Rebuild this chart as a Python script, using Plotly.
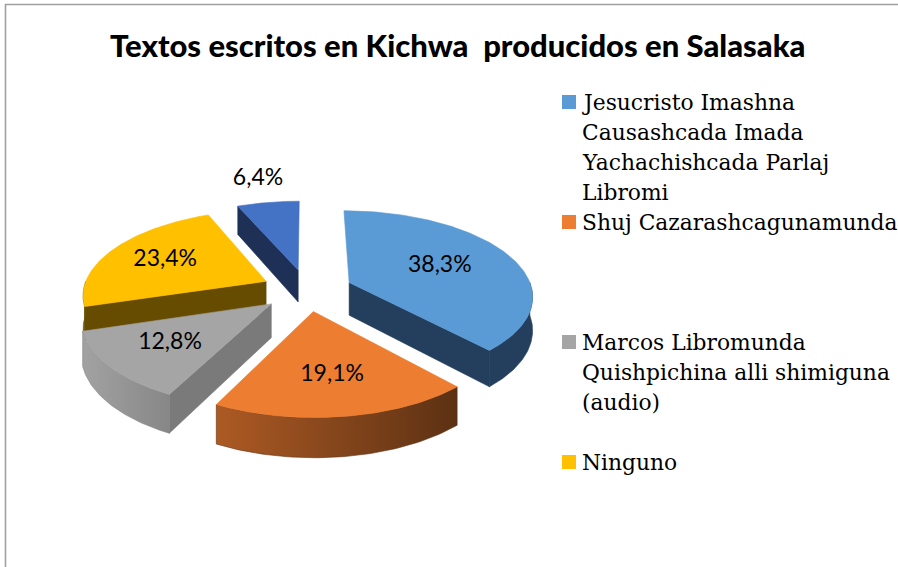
import numpy as np
import plotly.graph_objects as go

# ---------------- data ----------------
legend_lines = [
    ["Jesucristo Imashna", "Causashcada Imada", "Yachachishcada Parlaj", "Libromi"],
    ["Shuj Cazarashcagunamunda"],
    ["Marcos Libromunda", "Quishpichina alli shimiguna", "(audio)"],
    ["Ninguno"],
    ["Otros"],
]
categories = [" ".join(l) for l in legend_lines]
percentages = [38.3, 19.1, 12.8, 23.4, 6.4]
title_text = "Textos escritos en Kichwa\u00a0 producidos en Salasaka"

# ---------------- style ----------------
top_colors = ["#5B9BD5", "#ED7D31", "#A5A5A5", "#FFC000", "#4472C4"]
radial_colors = ["#243F5D", "#6E3A17", "#7A7A7A", "#664C00", "#1F3056"]
outer_grad = [("#243F5D", "#243F5D"), ("#AD5A24", "#5C3113"), ("#A2A2A2", "#878787"),
              ("#7F6000", "#6A5000"), ("#1F3056", "#1F3056")]
label_r = [0.56, 0.64, 0.65, 0.65, 1.40]
legend_visible = 4

W, H = 898, 567
CX, CY = 307, 290
A, B = 183, 84.0
K = 0.143
EXPLODE = 0.25
T = 33


def proj(x, z, h=0.0):
    s = 1.0 / (1.0 - K * z)
    return CX + A * x * s, CY + B * z * s + h * s


vals = np.array(percentages, dtype=float)
fr = vals / vals.sum()
ends = np.cumsum(fr) * 360.0
starts = ends - fr * 360.0

fig = go.Figure()

slices = []
for i in range(len(vals)):
    a1, a2 = starts[i], ends[i]
    mid = np.radians((a1 + a2) / 2)
    ox, oz = EXPLODE * np.sin(mid), -EXPLODE * np.cos(mid)
    slices.append((oz, i, a1, a2, ox))

def add_poly(xs, ys, color, grad=None):
    kw = {}
    if grad is not None and grad[0] != grad[1]:
        kw["fillgradient"] = dict(type="horizontal", colorscale=[[0, grad[0]], [1, grad[1]]])
        lc = grad[1]
    else:
        kw["fillcolor"] = color
        lc = color
    fig.add_trace(go.Scatter(x=xs, y=ys, mode="lines", fill="toself",
                             line=dict(color=lc, width=0.6), hoverinfo="skip",
                             showlegend=False, **kw))

for oz, i, a1, a2, ox in sorted(slices):
    def pt(tdeg, r=1.0, h=0.0):
        t = np.radians(tdeg)
        return proj(ox + r * np.sin(t), oz - r * np.cos(t), h)

    # radial walls (only those facing the viewer)
    for t, vis in ((a1, np.sin(np.radians(a1)) < -1e-6), (a2, np.sin(np.radians(a2)) > 1e-6)):
        if vis:
            p = [pt(t, 0, 0), pt(t, 1, 0), pt(t, 1, T), pt(t, 0, T), pt(t, 0, 0)]
            add_poly([q[0] for q in p], [q[1] for q in p], radial_colors[i])
    # outer curved wall (front part)
    f1, f2 = max(a1, 90.0), min(a2, 270.0)
    if f1 < f2:
        ts = np.linspace(f1, f2, 60)
        p = [pt(t, 1, 0) for t in ts] + [pt(t, 1, T) for t in ts[::-1]]
        p.append(p[0])
        add_poly([q[0] for q in p], [q[1] for q in p], outer_grad[i][0], outer_grad[i])
    # top face
    ts = np.linspace(a1, a2, 120)
    p = [pt(a1, 0, 0)] + [pt(t, 1, 0) for t in ts] + [pt(a1, 0, 0)]
    add_poly([q[0] for q in p], [q[1] for q in p], top_colors[i])

# data labels
lx, ly, lt = [], [], []
for oz, i, a1, a2, ox in slices:
    mid = np.radians((a1 + a2) / 2)
    x, y = proj(ox + label_r[i] * np.sin(mid), oz - label_r[i] * np.cos(mid))
    lx.append(x); ly.append(y)
    lt.append(f"{percentages[i]:.1f}".replace(".", ",") + "%")
fig.add_trace(go.Scatter(x=lx, y=ly, text=lt, mode="text", hoverinfo="skip", showlegend=False,
                         textfont=dict(family="Lato, Open Sans, sans-serif", size=23, color="#000000")))

# title
fig.add_annotation(x=458, y=45, xref="x", yref="y", text=title_text, showarrow=False,
                   xanchor="center", yanchor="middle",
                   font=dict(family="Lato, sans-serif", size=31, color="#000000", weight=900))

# legend (manual, Excel style)
shapes = []
for i in range(legend_visible):
    y0 = 102 + 120 * i
    shapes.append(dict(type="rect", xref="x", yref="y", x0=562, x1=576, y0=y0 - 7, y1=y0 + 7,
                       fillcolor=top_colors[i], line=dict(width=0), layer="above"))
    for j, line in enumerate(legend_lines[i]):
        fig.add_annotation(x=580, y=y0 + 30 * j, xref="x", yref="y", text=line, showarrow=False,
                           xanchor="left", yanchor="middle",
                           font=dict(family="DejaVu Serif, serif", size=21.8, color="#000000"))

# chart frame
shapes.append(dict(type="rect", xref="x", yref="y", x0=5.5, x1=W + 20, y0=4.5, y1=H + 20,
                   line=dict(color="#A0A0A0", width=1.6), fillcolor="rgba(0,0,0,0)", layer="above"))

fig.update_layout(
    width=W, height=H, margin=dict(l=0, r=0, t=0, b=0),
    paper_bgcolor="white", plot_bgcolor="white", showlegend=False, shapes=shapes,
    xaxis=dict(range=[0, W], visible=False, fixedrange=True),
    yaxis=dict(range=[H, 0], visible=False, fixedrange=True),
)

fig.write_html("out.html", config={"displayModeBar": False},
               post_script="document.body.style.margin='0';document.body.style.overflow='hidden';")
